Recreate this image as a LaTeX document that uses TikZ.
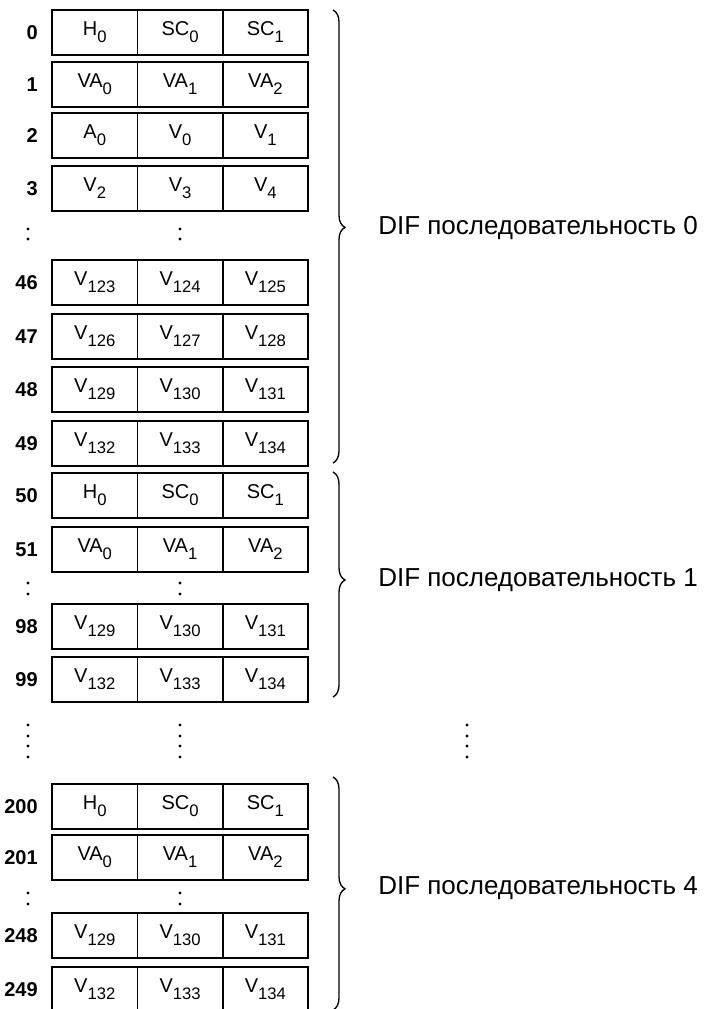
\documentclass[tikz,border=0pt]{standalone}
\usepackage{fontspec}
\setmainfont{Liberation Sans}
\usetikzlibrary{positioning,decorations.pathreplacing}
\newcommand{\subidx}[1]{\raisebox{-0.35em}{\fontsize{12.5}{13}\selectfont #1}}

\begin{document}
\begin{tikzpicture}[x=0.75pt, y=-0.75pt,
    cell/.style={draw, line width=1.3pt, minimum width=64pt, minimum height=34pt,
        inner sep=0pt, outer sep=0pt, font=\fontsize{15}{16}\selectfont},
    rownum/.style={anchor=east, inner sep=0pt, font=\fontsize{15}{16}\selectfont\bfseries},
    difbrace/.style={decorate, decoration={brace, amplitude=9pt, aspect=0.48}, line width=1pt},
    seqlabel/.style={anchor=west, inner sep=0pt, font=\fontsize{19.5}{21}\selectfont}]
			%%%%% START %%%%%
			\useasboundingbox (0,0) rectangle (713,1009);
			
			% rows of the DIF blocks
			\foreach \n/\y/\a/\b/\c in {
				0/10/H\subidx{0}/SC\subidx{0}/SC\subidx{1},
				1/62/VA\subidx{0}/VA\subidx{1}/VA\subidx{2},
				2/113/A\subidx{0}/V\subidx{0}/V\subidx{1},
				3/166/V\subidx{2}/V\subidx{3}/V\subidx{4},
				46/260/V\subidx{123}/V\subidx{124}/V\subidx{125},
				47/314/V\subidx{126}/V\subidx{127}/V\subidx{128},
				48/367/V\subidx{129}/V\subidx{130}/V\subidx{131},
				49/421/V\subidx{132}/V\subidx{133}/V\subidx{134},
				50/473/H\subidx{0}/SC\subidx{0}/SC\subidx{1},
				51/527/VA\subidx{0}/VA\subidx{1}/VA\subidx{2},
				98/604/V\subidx{129}/V\subidx{130}/V\subidx{131},
				99/657/V\subidx{132}/V\subidx{133}/V\subidx{134},
				200/784/H\subidx{0}/SC\subidx{0}/SC\subidx{1},
				201/835/VA\subidx{0}/VA\subidx{1}/VA\subidx{2},
				248/913/V\subidx{129}/V\subidx{130}/V\subidx{131},
				249/967/V\subidx{132}/V\subidx{133}/V\subidx{134}}{
				\node[cell] (c\n a) at (94.75,\y+22.5) {\a};
				\node[cell, right=0pt of c\n a] (c\n b) {\b};
				\node[cell, right=0pt of c\n b] (c\n c) {\c};
				\node[rownum] (n\n) at (38,\y+22.5) {\n};
			}
			
			% short gaps
			\foreach \y in {229,239,583,594,893,904}
				\foreach \x in {28,180}
					\fill (\x,\y) circle (1.2pt);
			
			% long gap
			\foreach \y in {725,736,746,757}
				\foreach \x in {28,180,467}
					\fill (\x,\y) circle (1.2pt);
			
			% braces
			\draw[difbrace] (333,10) -- (333,463);
			\node[seqlabel] (s0) at (378,228) {DIF последовательность 0};
			
			\draw[difbrace] (333,472) -- (333,697);
			\node[seqlabel] (s1) at (378,580) {DIF последовательность 1};
			
			\draw[difbrace] (333,777) -- (333,1010);
			\node[seqlabel] (s4) at (378,888) {DIF последовательность 4};
			
			%%%%% END %%%%%
		\end{tikzpicture}
\end{document}
